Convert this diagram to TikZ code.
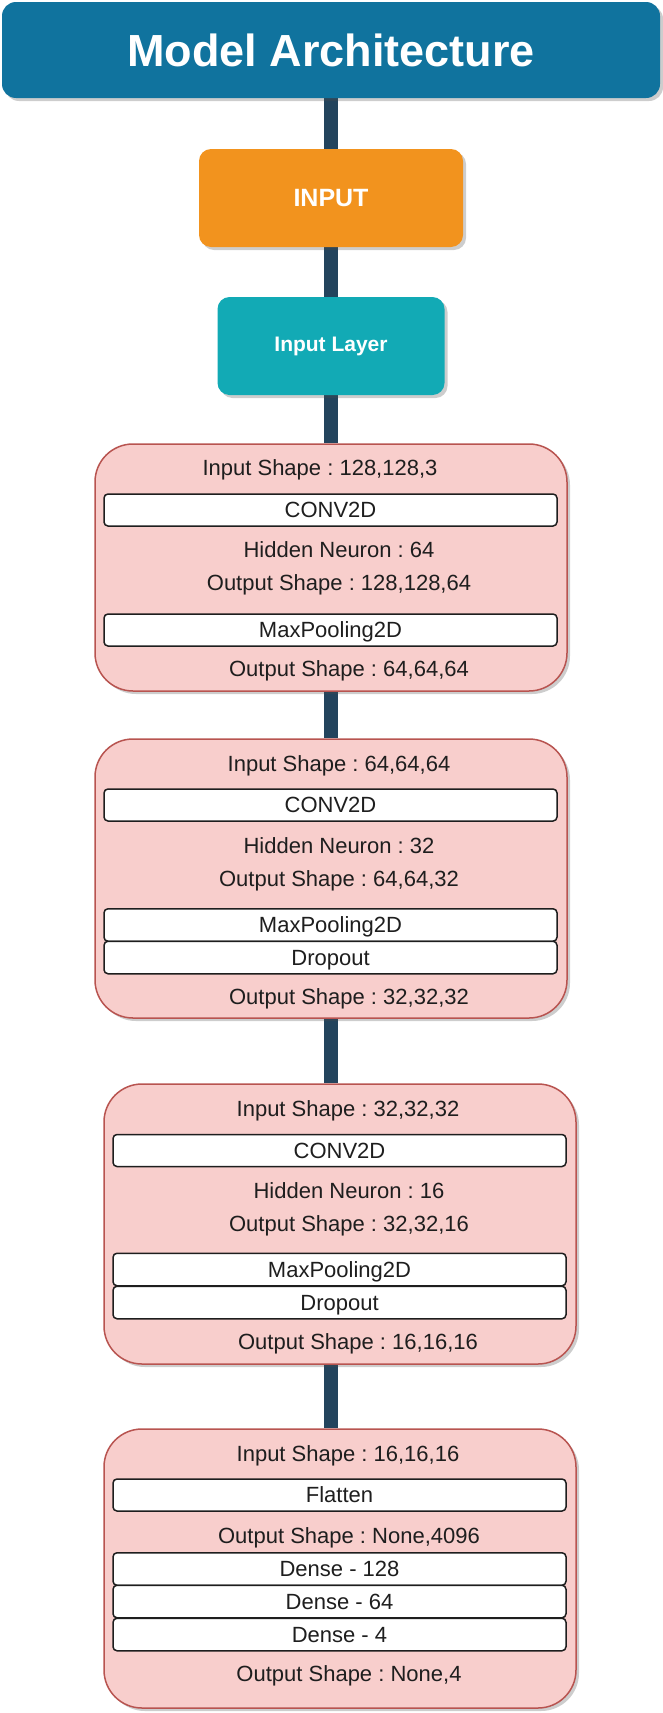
\documentclass[tikz,border=0pt]{standalone}
\usepackage{fontspec}
\setmainfont{Liberation Sans}
\usetikzlibrary{shadows,backgrounds}

\definecolor{titleblue}{HTML}{10739E}
\definecolor{inorange}{HTML}{F2931E}
\definecolor{layerteal}{HTML}{12AAB5}
\definecolor{linkdark}{HTML}{23445D}
\definecolor{blockfill}{HTML}{F8CECC}
\definecolor{blockedge}{HTML}{B85450}
\definecolor{txt}{HTML}{1E1E1E}

\tikzset{
  softshadow/.style={drop shadow={shadow xshift=3pt, shadow yshift=-3pt, opacity=0.28, fill=black!70}},
  headbox/.style={rounded corners=14pt, fill=titleblue, softshadow, inner sep=0pt,
    text=white, font=\fontsize{45}{50}\selectfont\bfseries},
  inbox/.style={rounded corners=12pt, fill=inorange, softshadow, inner sep=0pt,
    text=white, font=\fontsize{25}{30}\selectfont\bfseries},
  layerbox/.style={rounded corners=12pt, fill=layerteal, softshadow, inner sep=0pt,
    text=white, font=\fontsize{21}{25}\selectfont\bfseries},
  stage/.style={rounded corners=38pt, fill=blockfill, draw=blockedge, line width=1.5pt,
    softshadow, inner sep=0pt, minimum width=472pt},
  opbox/.style={rounded corners=4pt, fill=white, draw=txt, line width=1.5pt, inner sep=0pt,
    minimum width=453pt, minimum height=32pt, text=txt,
    font=\fontsize{22}{26}\selectfont\frenchspacing, text height=19.5pt, text depth=4.4pt},
  info/.style={inner sep=0pt, text=txt, font=\fontsize{22}{26}\selectfont\frenchspacing,
    text height=20.5pt, text depth=4.4pt},
  link/.style={draw=linkdark, line width=14pt},
}

\begin{document}
\begin{tikzpicture}[x=1pt,y=-1pt]
\useasboundingbox (0,0) rectangle (662,1713);

% header and input boxes
\node[headbox, minimum width=658pt, minimum height=96pt] (title) at (331,50) {Model Architecture};
\node[inbox, minimum width=264pt, minimum height=98pt] (input) at (331,198) {INPUT};
\node[layerbox, minimum width=227pt, minimum height=98pt] (layer) at (331,346) {Input Layer};

% stage containers
\node[stage, minimum height=247pt] (b1) at (331,567.5) {};
\node[stage, minimum height=279pt] (b2) at (331,878.5) {};
\node[stage, minimum height=280pt] (b3) at (340,1224) {};
\node[stage, minimum height=279pt] (b4) at (340,1568.5) {};

% stage 1
\node[info] (b1in)  at (320,467.5) {Input Shape : 128,128,3};
\node[opbox] (b1conv) at (330.5,510) {CONV2D};
\node[info] (b1hid) at (339,549.5) {Hidden Neuron : 64};
\node[info] (b1cout) at (339,582) {Output Shape : 128,128,64};
\node[opbox] (b1pool) at (330.5,630) {MaxPooling2D};
\node[info] (b1out) at (349,668) {Output Shape : 64,64,64};

% stage 2
\node[info] (b2in)  at (339,763) {Input Shape : 64,64,64};
\node[opbox] (b2conv) at (330.5,805) {CONV2D};
\node[info] (b2hid) at (339,845) {Hidden Neuron : 32};
\node[info] (b2cout) at (339,878) {Output Shape : 64,64,32};
\node[opbox, minimum height=32.5pt] (b2pool) at (330.5,925) {MaxPooling2D};
\node[opbox, minimum height=32.5pt] (b2drop) at (330.5,957.5) {Dropout};
\node[info] (b2out) at (349,996) {Output Shape : 32,32,32};

% stage 3
\node[info] (b3in)  at (348,1108) {Input Shape : 32,32,32};
\node[opbox] (b3conv) at (339.5,1150.5) {CONV2D};
\node[info] (b3hid) at (349,1190) {Hidden Neuron : 16};
\node[info] (b3cout) at (349,1223) {Output Shape : 32,32,16};
\node[opbox, minimum height=32.5pt] (b3pool) at (339.5,1269.5) {MaxPooling2D};
\node[opbox, minimum height=32.5pt] (b3drop) at (339.5,1302.5) {Dropout};
\node[info] (b3out) at (358,1341) {Output Shape : 16,16,16};

% stage 4
\node[info] (b4in)  at (348,1453) {Input Shape : 16,16,16};
\node[opbox] (b4flat) at (339.5,1495) {Flatten};
\node[info] (b4fout) at (349,1535) {Output Shape : None,4096};
\node[opbox, minimum height=32.5pt] (b4d1) at (339.5,1569) {Dense - 128};
\node[opbox, minimum height=32.5pt] (b4d2) at (339.5,1601.5) {Dense - 64};
\node[opbox, minimum height=32.5pt] (b4d3) at (339.5,1634.5) {Dense - 4};
\node[info] (b4out) at (349,1673) {Output Shape : None,4};

% connectors behind the boxes
\begin{pgfonlayer}{background}
\draw[link] (title.south) -- (input.north);
\draw[link] (input.south) -- (layer.north);
\draw[link] (layer.south) -- (b1.north);
\draw[link] (b1.south) -- (b2.north);
\draw[link] (b2.south) -- (b2.south |- b3.north);
\draw[link] (b2.south |- b3.south) -- (b2.south |- b4.north);
\end{pgfonlayer}
\end{tikzpicture}
\end{document}
